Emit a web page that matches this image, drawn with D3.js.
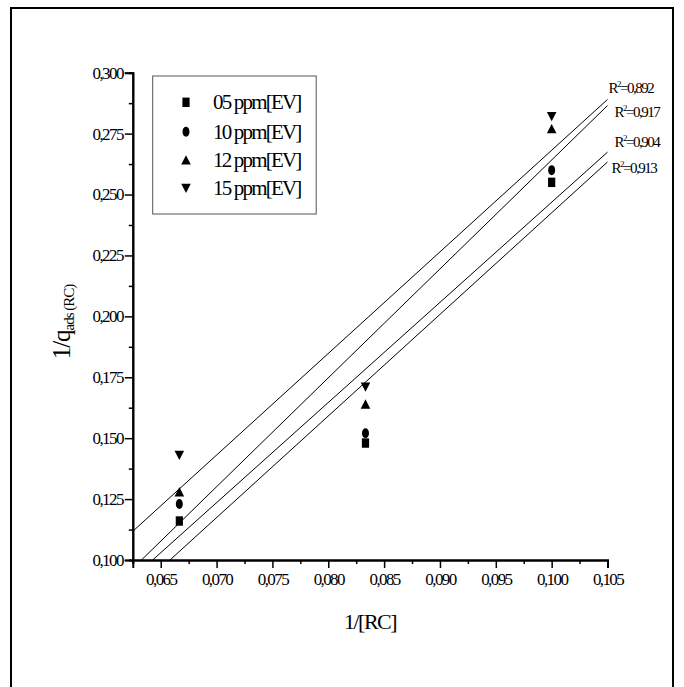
<!DOCTYPE html>
<html><head><meta charset="utf-8">
<script src="https://cdn.jsdelivr.net/npm/d3@7"></script>
<style>
body{margin:0;background:#fff;}
svg text{font-family:"Liberation Serif","Times New Roman",serif;fill:#000;}
</style></head>
<body><svg id="c" width="684" height="687"></svg>
<script>
// ---- data ----
const xValues = [1/15, 1/12, 1/10];           // 1/[RC]
const seriesNames = ["05 ppm[EV]", "10 ppm[EV]", "12 ppm[EV]", "15 ppm[EV]"];
const seriesSymbols = ["square", "circle", "triangleUp", "triangleDown"];
const s05 = [0.116, 0.148, 0.255];
const s10 = [0.123, 0.152, 0.260];
const s12 = [0.128, 0.164, 0.277];
const s15 = [0.143, 0.171, 0.282];
const r2Labels = ["0,913", "0,904", "0,917", "0,892"];
const xMajorTicks = [0.065,0.070,0.075,0.080,0.085,0.090,0.095,0.100,0.105];
const xMinorTicks = [0.0625,0.0675,0.0725,0.0775,0.0825,0.0875,0.0925,0.0975,0.1025];
const yMajorTicks = [0.100,0.125,0.150,0.175,0.200,0.225,0.250,0.275,0.300];
const yMinorTicks = [0.1125,0.1375,0.1625,0.1875,0.2125,0.2375,0.2625,0.2875];

const seriesValues = [s05, s10, s12, s15];
// ---- layout ----
const svg = d3.select("#c");
const x = d3.scaleLinear().domain([0.0625, 0.105]).range([132.8, 607.5]);
const y = d3.scaleLinear().domain([0.1, 0.3]).range([560, 72.7]);
const fmt = v => d3.format(".3f")(v).replace(".", ",");

// outer frame
svg.append("rect").attr("x",11).attr("y",8).attr("width",662).attr("height",700)
  .attr("fill","none").attr("stroke","#000").attr("stroke-width",2);

// symbols
function drawSymbol(g, type, cx, cy){
  if(type==="square"){
    g.append("rect").attr("x",cx-3.6).attr("y",cy-4.7).attr("width",7.2).attr("height",9.4).attr("fill","#000");
  } else if(type==="circle"){
    g.append("ellipse").attr("cx",cx).attr("cy",cy).attr("rx",3.5).attr("ry",5).attr("fill","#000");
  } else if(type==="triangleUp"){
    g.append("path").attr("d",`M${cx-4.8},${cy+4.6}L${cx+4.8},${cy+4.6}L${cx},${cy-4.8}Z`).attr("fill","#000");
  } else {
    g.append("path").attr("d",`M${cx-4.8},${cy-4.6}L${cx+4.8},${cy-4.6}L${cx},${cy+4.8}Z`).attr("fill","#000");
  }
}

// regression lines
function fit(xs, ys){
  const mx=d3.mean(xs), my=d3.mean(ys);
  let sxy=0,sxx=0; xs.forEach((v,i)=>{sxy+=(v-mx)*(ys[i]-my); sxx+=(v-mx)*(v-mx);});
  const m=sxy/sxx; return {m, b: my-m*mx};
}
const [xd0,xd1]=x.domain(), [yd0,yd1]=y.domain();
const labelOffsets = [[4,6],[7,-10],[7,6],[1,-11]];
const gl = svg.append("g");
seriesValues.forEach((vals,i)=>{
  const {m,b}=fit(xValues, vals);
  const xs0=Math.max(xd0,(yd0-b)/m), xs1=Math.min(xd1,(yd1-b)/m);
  gl.append("line").attr("x1",x(xs0)).attr("y1",y(m*xs0+b)).attr("x2",x(xs1)).attr("y2",y(m*xs1+b))
    .attr("stroke","#000").attr("stroke-width",1);
  const t = gl.append("text").attr("x",x(xs1)+labelOffsets[i][0]).attr("y",y(m*xs1+b)+labelOffsets[i][1]+5)
    .attr("font-size",15).attr("letter-spacing","-1.5px");
  t.append("tspan").text("R");
  t.append("tspan").attr("font-size",9).attr("dy",-6).text("2");
  t.append("tspan").attr("dy",6).text("="+r2Labels[i]);
});

// points
const gp = svg.append("g");
seriesValues.forEach((vals,i)=>{
  vals.forEach((v,j)=> drawSymbol(gp, seriesSymbols[i], x(xValues[j]), y(v)));
});

// axes
const gx = svg.append("g").attr("transform",`translate(0,${y(yd0)})`);
gx.call(d3.axisBottom(x).tickValues(xMinorTicks).tickSize(4).tickFormat(""));
gx.call(g=>g.append("g").call(d3.axisBottom(x).tickValues(xMajorTicks).tickSize(8).tickPadding(5).tickFormat(fmt)));
const gy = svg.append("g").attr("transform",`translate(${x(xd0)},0)`);
gy.call(d3.axisLeft(y).tickValues(yMinorTicks).tickSize(4).tickFormat(""));
gy.call(g=>g.append("g").call(d3.axisLeft(y).tickValues(yMajorTicks).tickSize(8).tickPadding(2).tickFormat(fmt)));
svg.selectAll(".domain").attr("stroke","#000").attr("stroke-width",2);
svg.selectAll(".tick line").attr("stroke","#000").attr("stroke-width",1.5);
svg.selectAll(".tick text").attr("font-size",17).attr("letter-spacing","-1.6px")
  .attr("font-family","Liberation Serif, serif").attr("fill","#000");

// axis titles
svg.append("text").attr("x",370).attr("y",629).attr("text-anchor","middle").attr("font-size",22)
  .attr("letter-spacing","-1.5px").text("1/[RC]");
const yt = svg.append("text").attr("transform","translate(70,322) rotate(-90)").attr("text-anchor","middle")
  .attr("font-size",25).attr("letter-spacing","-1px");
yt.append("tspan").text("1/q");
yt.append("tspan").attr("font-size",15).attr("dy",4).attr("letter-spacing","-1px").text("ads (RC)");

// legend
const lg = svg.append("g");
lg.append("rect").attr("x",152.7).attr("y",76).attr("width",163.5).attr("height",138)
  .attr("fill","#fff").attr("stroke","#555").attr("stroke-width",1);
const legY = [102.3,131.7,160,188.3];
seriesNames.forEach((n,i)=>{
  drawSymbol(lg, seriesSymbols[i], 186, legY[i]);
  lg.append("text").attr("x",213).attr("y",legY[i]+7).attr("font-size",21)
    .attr("letter-spacing","-1.8px").text(n);
});
</script></body></html>
